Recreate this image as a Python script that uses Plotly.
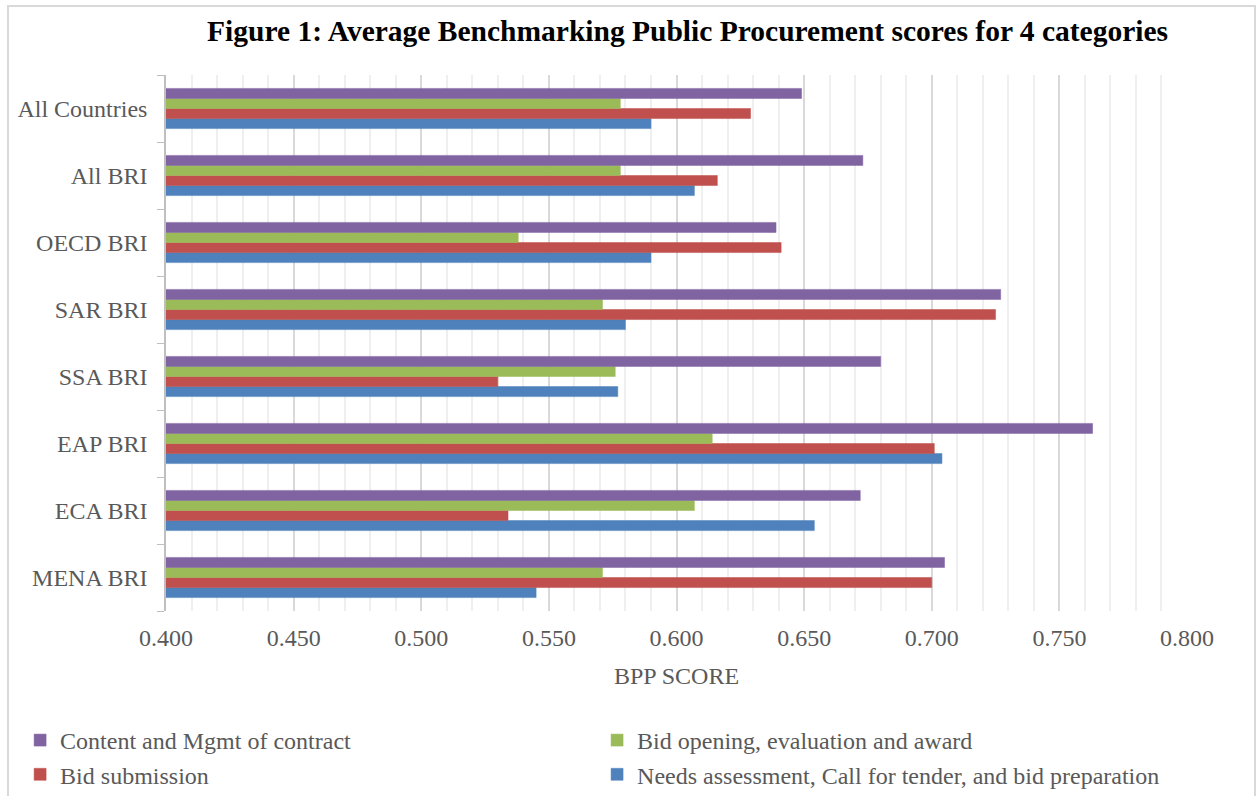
import plotly.graph_objects as go

# Regions, listed top to bottom as drawn
regions = ["All Countries", "All BRI", "OECD BRI", "SAR BRI",
           "SSA BRI", "EAP BRI", "ECA BRI", "MENA BRI"]

# Average BPP scores per category
needs_assessment = [0.590, 0.607, 0.590, 0.580, 0.577, 0.704, 0.654, 0.545]
bid_submission = [0.629, 0.616, 0.641, 0.725, 0.530, 0.701, 0.534, 0.700]
bid_opening = [0.578, 0.578, 0.538, 0.571, 0.576, 0.614, 0.607, 0.571]
contract_mgmt = [0.649, 0.673, 0.639, 0.727, 0.680, 0.763, 0.672, 0.705]

# (name, values, colour, legend column)
series = [
    ("Needs assessment, Call for tender, and bid preparation", needs_assessment, "#4F81BD", "legend2"),
    ("Bid submission", bid_submission, "#C0504D", "legend"),
    ("Bid opening, evaluation and award", bid_opening, "#9BBB59", "legend2"),
    ("Content and Mgmt of contract", contract_mgmt, "#8064A2", "legend"),
]

FONT = "Liberation Serif, Times New Roman, serif"
GREY = "#595959"
FS = 24

fig = go.Figure()
for name, vals, color, leg in series:
    fig.add_trace(go.Bar(
        y=regions, x=vals, name=name, orientation="h", legend=leg,
        marker=dict(color=color, line=dict(color=color, width=0.5)),
    ))

legend_style = dict(
    orientation="v", traceorder="reversed",
    xref="container", yref="container",
    y=0.098, xanchor="left", yanchor="top",
    font=dict(family=FONT, size=FS, color=GREY),
    bgcolor="rgba(0,0,0,0)", itemclick=False, tracegroupgap=0,
)

fig.update_layout(
    width=1257, height=796,
    barmode="group", bargap=0.4, bargroupgap=0,
    paper_bgcolor="white", plot_bgcolor="white",
    margin=dict(l=166, r=70, t=75, b=185, autoexpand=False),
    font=dict(family=FONT, size=FS, color=GREY),
    title=dict(
        text="<b>Figure 1: Average Benchmarking Public Procurement scores for 4 categories</b>",
        font=dict(family=FONT, size=29.5, color="black"),
        x=0.547, xref="container", xanchor="center",
        y=0.962, yref="container", yanchor="middle",
    ),
    legend=dict(x=0.016, **legend_style),
    legend2=dict(x=0.475, **legend_style),
    xaxis=dict(
        range=[0.4, 0.8], dtick=0.05, tick0=0.4, tickformat=".3f",
        showgrid=True, gridcolor="#d9d9d9", gridwidth=1.5,
        minor=dict(dtick=0.01, showgrid=True, gridcolor="#efefef", gridwidth=1.5),
        zeroline=False, showline=False, automargin=False,
        ticks="outside", ticklen=5, tickcolor="rgba(0,0,0,0)",
        title=dict(text="BPP SCORE", font=dict(family=FONT, size=FS, color=GREY), standoff=17),
    ),
    yaxis=dict(
        categoryorder="array", categoryarray=regions[::-1],
        showline=True, linecolor="#bfbfbf", linewidth=1.5, automargin=False,
        ticks="outside", tickson="boundaries", ticklen=7, tickcolor="#bfbfbf",
        showgrid=False, ticksuffix="  ",
    ),
    shapes=[dict(
        type="rect", xref="paper", yref="paper",
        x0=(8 - 166) / 1021, x1=(1255 - 166) / 1021,
        y0=(611 - 820) / 536, y1=(611 - 6) / 536,
        line=dict(color="#d9d9d9", width=2), fillcolor="rgba(0,0,0,0)", layer="below",
    )],
)

fig.write_html("out.html")
